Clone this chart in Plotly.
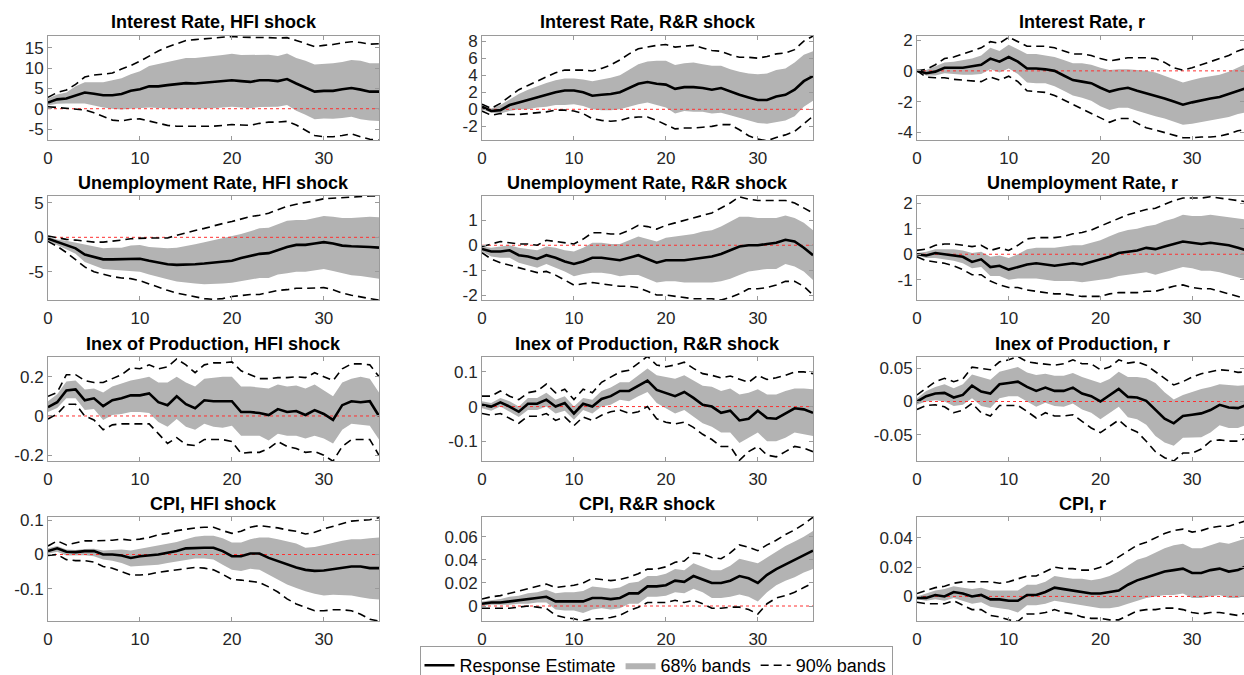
import plotly.graph_objects as go

W, H = 1244, 675
horizon = list(range(37))

# ---------------- Interest Rate, HFI shock ----------------
ir_hfi_mid = [1.5, 2.3, 2.5, 3.3, 4.0, 3.7, 3.3, 3.3, 3.6, 4.4, 4.8, 5.5, 5.5, 5.8, 6.0, 6.3, 6.2, 6.4, 6.5, 6.7, 7.0, 6.8, 6.6, 7.0, 7.0, 6.8, 7.3, 6.2, 5.2, 4.2, 4.4, 4.4, 4.8, 5.1, 4.7, 4.2, 4.2]
ir_hfi_hi68 = [2.5, 3.5, 4.0, 5.5, 6.5, 6.5, 6.5, 7.0, 7.5, 8.5, 9.2, 10.5, 11.0, 11.5, 12.0, 12.5, 12.5, 12.8, 13.0, 13.2, 13.5, 13.2, 13.2, 13.3, 13.3, 13.0, 13.6, 12.5, 11.8, 10.9, 11.0, 11.2, 11.5, 12.0, 11.8, 11.2, 11.2]
ir_hfi_lo68 = [0.8, 1.2, 1.3, 1.3, 1.3, 0.8, 0.3, 0.0, -0.2, 0.0, 0.2, 0.3, 0.2, 0.1, 0.0, 0.2, 0.0, 0.1, 0.1, 0.3, 0.5, 0.3, 0.1, 0.4, 0.4, 0.5, 0.9, -0.5, -1.5, -2.6, -2.4, -2.5, -2.3, -2.0, -2.6, -2.9, -3.0]
ir_hfi_hi90 = [2.8, 4.0, 4.6, 6.0, 7.8, 8.3, 8.5, 8.8, 9.8, 10.6, 11.7, 13.0, 14.2, 15.2, 16.0, 16.8, 17.0, 17.2, 17.4, 17.6, 17.8, 17.6, 17.6, 17.5, 17.5, 17.4, 17.5, 16.8, 16.0, 15.3, 15.6, 15.8, 16.2, 16.5, 16.3, 15.9, 16.0]
ir_hfi_lo90 = [0.5, 0.3, 0.1, -0.1, -0.3, -1.0, -2.0, -2.8, -3.0, -2.6, -2.5, -3.0, -3.6, -4.1, -4.3, -4.3, -4.4, -4.3, -4.3, -4.1, -3.9, -4.0, -4.1, -3.6, -3.3, -3.3, -3.1, -4.0, -5.2, -6.6, -6.9, -6.9, -6.6, -6.2, -6.9, -7.5, -7.8]

# ---------------- Interest Rate, R&R shock ----------------
ir_rr_mid = [0.3, -0.2, -0.1, 0.5, 0.8, 1.1, 1.4, 1.7, 2.0, 2.2, 2.2, 2.0, 1.6, 1.7, 1.8, 2.0, 2.5, 3.0, 3.2, 3.0, 2.9, 2.4, 2.6, 2.6, 2.5, 2.3, 2.5, 2.1, 1.7, 1.4, 1.1, 1.1, 1.5, 1.7, 2.3, 3.3, 3.9]
ir_rr_hi68 = [0.5, 0.1, 0.5, 1.2, 1.8, 2.3, 2.7, 3.1, 3.4, 3.6, 3.6, 3.5, 3.3, 3.5, 3.7, 4.0, 4.6, 5.3, 5.6, 5.7, 5.7, 5.2, 5.4, 5.5, 5.3, 5.1, 5.1, 4.7, 4.4, 4.2, 4.1, 4.2, 4.6, 4.8, 5.5, 6.4, 6.8]
ir_rr_lo68 = [0.0, -0.4, -0.5, -0.2, 0.0, 0.0, 0.2, 0.3, 0.5, 0.5, 0.6, 0.4, 0.0, -0.1, -0.1, 0.0, 0.3, 0.6, 0.8, 0.5, 0.2, -0.5, -0.2, -0.3, -0.3, -0.5, -0.4, -0.7, -1.0, -1.3, -1.6, -1.7, -1.5, -1.3, -0.8, 0.3, 1.0]
ir_rr_hi90 = [0.6, 0.1, 0.7, 1.5, 2.3, 2.8, 3.3, 3.8, 4.3, 4.6, 4.6, 4.6, 4.5, 4.8, 5.2, 5.8, 6.5, 7.1, 7.3, 7.5, 7.6, 7.3, 7.4, 7.5, 7.2, 6.9, 6.8, 6.4, 6.1, 6.1, 6.0, 6.2, 6.5, 6.6, 7.0, 8.0, 8.6]
ir_rr_lo90 = [-0.2, -0.7, -0.5, -0.6, -0.6, -0.5, -0.4, -0.3, -0.1, -0.1, -0.2, -0.5, -1.1, -1.3, -1.4, -1.3, -1.0, -0.9, -0.9, -1.3, -1.8, -2.3, -2.2, -2.2, -2.1, -2.0, -1.8, -1.8, -2.4, -3.1, -3.5, -3.7, -3.3, -3.0, -2.6, -1.7, -0.8]

# ---------------- Interest Rate, r ----------------
ir_r_mid = [0.0, -0.15, -0.05, 0.2, 0.2, 0.2, 0.3, 0.4, 0.8, 0.6, 0.9, 0.6, 0.15, 0.15, 0.1, 0.0, -0.3, -0.6, -0.7, -0.8, -1.1, -1.35, -1.2, -1.1, -1.3, -1.45, -1.6, -1.8, -2.0, -2.2, -2.05, -1.9, -1.8, -1.7, -1.5, -1.3, -1.1]
ir_r_hi68 = [0.0, 0.05, 0.3, 0.55, 0.6, 0.7, 0.8, 1.0, 1.5, 1.3, 1.7, 1.4, 1.1, 1.1, 1.0, 0.9, 0.7, 0.5, 0.5, 0.4, 0.2, 0.05, 0.1, 0.1, 0.05, 0.0, -0.1, -0.3, -0.55, -0.75, -0.6, -0.45, -0.35, -0.25, -0.05, 0.2, 0.5]
ir_r_lo68 = [0.0, -0.3, -0.3, -0.15, -0.2, -0.25, -0.25, -0.2, 0.1, -0.1, 0.15, -0.2, -0.75, -0.8, -0.8, -1.0, -1.3, -1.6, -1.75, -1.95, -2.3, -2.55, -2.4, -2.4, -2.6, -2.8, -2.95, -3.1, -3.3, -3.5, -3.45, -3.35, -3.25, -3.15, -3.0, -2.8, -2.7]
ir_r_hi90 = [0.0, 0.1, 0.4, 0.8, 0.9, 1.1, 1.3, 1.5, 1.9, 1.8, 2.2, 1.9, 1.6, 1.6, 1.6, 1.5, 1.3, 1.1, 1.1, 1.0, 0.8, 0.65, 0.75, 0.85, 0.85, 0.85, 0.8, 0.55, 0.2, 0.05, 0.2, 0.4, 0.6, 0.8, 1.0, 1.3, 1.5]
ir_r_lo90 = [0.0, -0.4, -0.45, -0.45, -0.55, -0.6, -0.65, -0.7, -0.4, -0.6, -0.35, -0.7, -1.3, -1.35, -1.4, -1.6, -1.9, -2.2, -2.5, -2.75, -3.1, -3.35, -3.1, -3.1, -3.4, -3.7, -3.85, -4.0, -4.2, -4.35, -4.35, -4.3, -4.3, -4.25, -4.1, -3.9, -3.8]

# ---------------- Unemployment Rate, HFI shock ----------------
ur_hfi_mid = [-0.2, -0.7, -1.1, -1.6, -2.5, -2.8, -3.2, -3.2, -3.2, -3.2, -3.1, -3.4, -3.7, -3.9, -4.0, -4.0, -3.9, -3.8, -3.7, -3.5, -3.4, -3.0, -2.7, -2.4, -2.3, -1.8, -1.4, -1.1, -1.1, -0.9, -0.7, -0.9, -1.2, -1.3, -1.3, -1.4, -1.5]
ur_hfi_hi68 = [0.1, -0.3, -0.5, -0.8, -1.1, -1.4, -1.6, -1.5, -1.5, -1.2, -1.1, -1.4, -1.5, -1.6, -1.5, -1.3, -1.0, -0.7, -0.4, -0.2, 0.1, 0.5, 0.9, 1.3, 1.4, 1.9, 2.4, 2.5, 2.5, 2.8, 3.1, 3.0, 2.8, 2.8, 2.9, 3.0, 2.9]
ur_hfi_lo68 = [-0.5, -1.1, -1.7, -2.4, -3.6, -4.1, -4.6, -4.7, -4.8, -5.0, -5.0, -5.4, -5.8, -6.1, -6.4, -6.6, -6.7, -6.8, -6.8, -6.7, -6.6, -6.4, -6.2, -5.9, -5.9, -5.4, -5.2, -5.0, -5.0, -4.8, -4.6, -4.9, -5.2, -5.5, -5.6, -5.8, -6.0]
ur_hfi_hi90 = [0.2, -0.1, -0.3, -0.4, -0.6, -0.7, -0.7, -0.6, -0.4, -0.2, -0.1, -0.1, -0.1, -0.1, 0.3, 0.7, 1.0, 1.3, 1.7, 2.0, 2.3, 2.7, 3.0, 3.2, 3.5, 4.0, 4.5, 4.8, 5.0, 5.3, 5.6, 5.7, 5.8, 5.8, 5.9, 6.0, 6.0]
ur_hfi_lo90 = [-0.6, -1.3, -2.2, -3.2, -4.3, -5.0, -5.4, -5.7, -5.9, -6.0, -6.3, -6.8, -7.3, -7.7, -8.1, -8.4, -8.6, -8.9, -9.0, -8.9, -8.6, -8.4, -8.3, -8.3, -8.0, -7.7, -7.6, -7.4, -7.4, -7.3, -7.3, -7.6, -8.1, -8.4, -8.7, -8.9, -9.1]

# ---------------- Unemployment Rate, R&R shock ----------------
ur_rr_mid = [-0.15, -0.25, -0.25, -0.2, -0.4, -0.45, -0.55, -0.4, -0.5, -0.65, -0.75, -0.65, -0.5, -0.5, -0.55, -0.6, -0.5, -0.4, -0.55, -0.7, -0.6, -0.6, -0.6, -0.55, -0.5, -0.45, -0.35, -0.2, -0.05, 0.0, 0.0, 0.05, 0.1, 0.22, 0.15, -0.1, -0.4]
ur_rr_hi68 = [-0.05, -0.1, -0.05, 0.0, -0.1, -0.15, -0.2, -0.05, -0.1, -0.2, -0.25, -0.1, 0.1, 0.1, 0.05, 0.05, 0.2, 0.35, 0.25, 0.15, 0.3, 0.35, 0.4, 0.45, 0.55, 0.6, 0.75, 0.95, 1.15, 1.15, 1.1, 1.1, 1.1, 1.2, 1.1, 0.9, 0.6]
ur_rr_lo68 = [-0.25, -0.45, -0.5, -0.5, -0.7, -0.8, -0.9, -0.75, -0.9, -1.05, -1.25, -1.15, -1.1, -1.1, -1.15, -1.25, -1.2, -1.2, -1.35, -1.5, -1.45, -1.45, -1.5, -1.5, -1.5, -1.5, -1.45, -1.35, -1.2, -1.05, -1.0, -0.95, -0.95, -0.75, -0.85, -1.05, -1.4]
ur_rr_hi90 = [-0.05, 0.05, 0.15, 0.1, 0.05, 0.05, 0.0, 0.2, 0.15, 0.1, 0.05, 0.25, 0.5, 0.5, 0.45, 0.45, 0.6, 0.8, 0.75, 0.65, 0.8, 0.9, 1.0, 1.1, 1.2, 1.3, 1.5, 1.7, 1.95, 1.85, 1.8, 1.8, 1.8, 1.8, 1.7, 1.5, 1.3]
ur_rr_lo90 = [-0.3, -0.55, -0.7, -0.8, -0.9, -1.0, -1.1, -1.05, -1.2, -1.4, -1.6, -1.55, -1.5, -1.55, -1.6, -1.65, -1.65, -1.7, -1.85, -2.0, -2.0, -2.05, -2.1, -2.15, -2.15, -2.15, -2.2, -2.1, -1.95, -1.75, -1.75, -1.7, -1.6, -1.45, -1.45, -1.65, -2.0]

# ---------------- Unemployment Rate, r ----------------
ur_r_mid = [0.0, -0.05, 0.05, 0.0, -0.05, -0.1, -0.3, -0.2, -0.5, -0.45, -0.6, -0.5, -0.4, -0.35, -0.4, -0.45, -0.4, -0.35, -0.4, -0.3, -0.2, -0.1, 0.05, 0.1, 0.15, 0.25, 0.2, 0.3, 0.4, 0.5, 0.45, 0.4, 0.45, 0.4, 0.35, 0.25, 0.15]
ur_r_hi68 = [0.05, 0.1, 0.2, 0.2, 0.2, 0.15, 0.05, 0.1, -0.1, -0.05, -0.15, 0.0, 0.2, 0.25, 0.25, 0.25, 0.3, 0.35, 0.35, 0.45, 0.55, 0.7, 0.85, 0.95, 1.0, 1.1, 1.15, 1.3, 1.4, 1.55, 1.5, 1.5, 1.55, 1.5, 1.45, 1.4, 1.35]
ur_r_lo68 = [-0.05, -0.15, -0.15, -0.2, -0.25, -0.35, -0.55, -0.5, -0.85, -0.85, -1.0, -0.95, -0.95, -0.95, -1.0, -1.05, -1.05, -1.05, -1.1, -1.05, -1.0, -0.95, -0.85, -0.8, -0.75, -0.7, -0.8, -0.7, -0.6, -0.5, -0.55, -0.65, -0.65, -0.7, -0.8, -0.9, -1.0]
ur_r_hi90 = [0.15, 0.2, 0.35, 0.4, 0.4, 0.35, 0.3, 0.35, 0.15, 0.25, 0.15, 0.35, 0.6, 0.65, 0.65, 0.65, 0.7, 0.8, 0.85, 0.95, 1.1, 1.25, 1.4, 1.55, 1.65, 1.75, 1.8, 1.95, 2.1, 2.2, 2.2, 2.2, 2.25, 2.2, 2.15, 2.1, 2.05]
ur_r_lo90 = [-0.1, -0.25, -0.3, -0.35, -0.45, -0.6, -0.8, -0.8, -1.05, -1.2, -1.3, -1.3, -1.4, -1.45, -1.5, -1.55, -1.55, -1.6, -1.65, -1.65, -1.65, -1.55, -1.5, -1.5, -1.5, -1.45, -1.45, -1.35, -1.25, -1.2, -1.3, -1.35, -1.35, -1.45, -1.55, -1.65, -1.75]

# ---------------- Index of Production, HFI shock ----------------
ip_hfi_mid = [0.045, 0.07, 0.13, 0.135, 0.08, 0.09, 0.05, 0.08, 0.09, 0.105, 0.105, 0.115, 0.07, 0.055, 0.1, 0.06, 0.04, 0.08, 0.075, 0.075, 0.075, 0.02, 0.02, 0.015, 0.005, 0.035, 0.02, 0.025, 0.005, 0.03, 0.01, -0.02, 0.055, 0.075, 0.07, 0.075, 0.0]
ip_hfi_hi68 = [0.075, 0.11, 0.175, 0.18, 0.135, 0.14, 0.12, 0.15, 0.165, 0.18, 0.19, 0.2, 0.17, 0.17, 0.2, 0.17, 0.15, 0.19, 0.195, 0.2, 0.2, 0.15, 0.15, 0.145, 0.14, 0.16, 0.15, 0.155, 0.14, 0.16, 0.13, 0.1, 0.17, 0.19, 0.2, 0.19, 0.12]
ip_hfi_lo68 = [0.02, 0.04, 0.09, 0.09, 0.03, 0.035, -0.02, 0.005, 0.01, 0.02, 0.02, 0.015, -0.03, -0.055, -0.015, -0.055, -0.07, -0.04, -0.055, -0.06, -0.05, -0.1, -0.1, -0.1, -0.125, -0.09, -0.1, -0.1, -0.115, -0.1, -0.115, -0.14, -0.07, -0.04, -0.045, -0.05, -0.12]
ip_hfi_hi90 = [0.1, 0.12, 0.21, 0.21, 0.18, 0.17, 0.17, 0.19, 0.21, 0.245, 0.24, 0.26, 0.24, 0.25, 0.29, 0.26, 0.22, 0.26, 0.27, 0.27, 0.275, 0.23, 0.21, 0.19, 0.19, 0.195, 0.195, 0.2, 0.195, 0.22, 0.2, 0.18, 0.24, 0.265, 0.265, 0.26, 0.2]
ip_hfi_lo90 = [-0.015, 0.01, 0.06, 0.06, 0.0, -0.02, -0.07, -0.045, -0.04, -0.04, -0.04, -0.04, -0.09, -0.14, -0.11, -0.145, -0.15, -0.12, -0.12, -0.12, -0.13, -0.19, -0.185, -0.185, -0.165, -0.13, -0.155, -0.165, -0.185, -0.18, -0.2, -0.23, -0.155, -0.12, -0.12, -0.12, -0.2]

# ---------------- Index of Production, R&R shock ----------------
ip_rr_mid = [0.005, 0.0, 0.012, 0.0, -0.015, 0.008, 0.008, 0.02, 0.0, 0.01, -0.02, 0.008, 0.0, 0.022, 0.03, 0.045, 0.045, 0.06, 0.075, 0.048, 0.04, 0.03, 0.042, 0.025, 0.005, 0.0, -0.018, -0.012, -0.04, -0.035, -0.012, -0.033, -0.035, -0.02, -0.005, -0.008, -0.018]
ip_rr_hi68 = [0.015, 0.01, 0.025, 0.015, 0.0, 0.025, 0.025, 0.04, 0.02, 0.03, 0.0, 0.025, 0.02, 0.045, 0.055, 0.07, 0.07, 0.09, 0.11, 0.09, 0.085, 0.08, 0.09, 0.075, 0.06, 0.057, 0.045, 0.052, 0.035, 0.04, 0.05, 0.035, 0.035, 0.045, 0.052, 0.052, 0.05]
ip_rr_lo68 = [-0.005, -0.012, 0.0, -0.015, -0.03, -0.01, -0.01, 0.0, -0.02, -0.012, -0.038, -0.01, -0.02, 0.0, 0.005, 0.02, 0.015, 0.03, 0.042, 0.01, -0.005, -0.02, -0.01, -0.03, -0.048, -0.058, -0.075, -0.075, -0.105, -0.09, -0.075, -0.1, -0.1, -0.09, -0.075, -0.08, -0.085]
ip_rr_hi90 = [0.03, 0.03, 0.045, 0.03, 0.02, 0.04, 0.045, 0.065, 0.04, 0.05, 0.02, 0.05, 0.04, 0.07, 0.085, 0.1, 0.105, 0.125, 0.145, 0.12, 0.115, 0.12, 0.128, 0.11, 0.095, 0.09, 0.083, 0.088, 0.078, 0.07, 0.09, 0.078, 0.083, 0.09, 0.1, 0.1, 0.095]
ip_rr_lo90 = [-0.02, -0.025, -0.02, -0.035, -0.048, -0.028, -0.028, -0.02, -0.04, -0.03, -0.055, -0.03, -0.04, -0.025, -0.015, -0.01, -0.02, -0.015, 0.0, -0.035, -0.045, -0.05, -0.045, -0.06, -0.08, -0.095, -0.115, -0.115, -0.155, -0.13, -0.115, -0.14, -0.145, -0.13, -0.115, -0.12, -0.13]

# ---------------- Index of Production, r ----------------
ip_r_mid = [0.0, 0.008, 0.012, 0.013, 0.006, 0.01, 0.024, 0.015, 0.012, 0.026, 0.028, 0.03, 0.022, 0.016, 0.021, 0.016, 0.016, 0.021, 0.012, 0.008, 0.0, 0.009, 0.019, 0.007, 0.006, 0.001, -0.012, -0.026, -0.033, -0.022, -0.02, -0.018, -0.013, -0.005, -0.009, -0.01, -0.005]
ip_r_hi68 = [0.005, 0.016, 0.022, 0.026, 0.02, 0.026, 0.041, 0.037, 0.033, 0.045, 0.048, 0.052, 0.044, 0.04, 0.042, 0.039, 0.039, 0.043, 0.037, 0.033, 0.028, 0.034, 0.045, 0.037, 0.037, 0.035, 0.028, 0.014, 0.003, 0.01, 0.015, 0.019, 0.022, 0.026, 0.025, 0.024, 0.025]
ip_r_lo68 = [-0.005, 0.0, 0.002, 0.0, -0.007, -0.005, 0.005, -0.007, -0.01, 0.005, 0.008, 0.008, 0.0, -0.008, -0.002, -0.007, -0.008, -0.003, -0.012, -0.017, -0.027, -0.018, -0.008, -0.024, -0.027, -0.035, -0.052, -0.062, -0.067, -0.055, -0.055, -0.054, -0.047, -0.036, -0.04, -0.04, -0.035]
ip_r_hi90 = [0.01, 0.02, 0.03, 0.035, 0.03, 0.034, 0.052, 0.05, 0.048, 0.06, 0.063, 0.068, 0.06, 0.058, 0.057, 0.055, 0.057, 0.063, 0.057, 0.057, 0.048, 0.052, 0.063, 0.058, 0.06, 0.055, 0.045, 0.035, 0.025, 0.03, 0.037, 0.042, 0.045, 0.048, 0.047, 0.044, 0.045]
ip_r_lo90 = [-0.012, -0.006, -0.005, -0.008, -0.017, -0.013, -0.003, -0.017, -0.022, -0.006, -0.006, -0.006, -0.015, -0.025, -0.017, -0.022, -0.022, -0.02, -0.03, -0.04, -0.047, -0.037, -0.028, -0.04, -0.046, -0.06, -0.076, -0.085, -0.09, -0.078, -0.078, -0.072, -0.06, -0.058, -0.06, -0.06, -0.055]

# ---------------- CPI, HFI shock ----------------
cpi_hfi_mid = [0.01, 0.018, 0.008, 0.007, 0.01, 0.01, 0.0, 0.0, -0.003, -0.01, -0.005, -0.003, 0.0, 0.005, 0.01, 0.018, 0.02, 0.02, 0.02, 0.01, -0.005, -0.005, 0.003, 0.003, -0.01, -0.02, -0.03, -0.038, -0.045, -0.048, -0.047, -0.043, -0.038, -0.035, -0.035, -0.04, -0.04]
cpi_hfi_hi68 = [0.018, 0.025, 0.015, 0.013, 0.016, 0.017, 0.012, 0.013, 0.015, 0.012, 0.017, 0.02, 0.025, 0.03, 0.037, 0.045, 0.052, 0.055, 0.055, 0.048, 0.035, 0.035, 0.045, 0.05, 0.05, 0.045, 0.038, 0.032, 0.02, 0.022, 0.028, 0.035, 0.04, 0.045, 0.045, 0.048, 0.05]
cpi_hfi_lo68 = [0.002, 0.008, -0.003, -0.003, -0.002, -0.005, -0.015, -0.018, -0.025, -0.035, -0.033, -0.033, -0.03, -0.025, -0.02, -0.015, -0.012, -0.012, -0.015, -0.03, -0.045, -0.048, -0.042, -0.045, -0.06, -0.075, -0.088, -0.098, -0.108, -0.115, -0.12, -0.118, -0.118, -0.12, -0.125, -0.13, -0.132]
cpi_hfi_hi90 = [0.025, 0.04, 0.028, 0.035, 0.04, 0.04, 0.04, 0.042, 0.045, 0.042, 0.045, 0.05, 0.058, 0.062, 0.07, 0.075, 0.078, 0.08, 0.08, 0.07, 0.062, 0.068, 0.08, 0.085, 0.082, 0.078, 0.072, 0.068, 0.06, 0.065, 0.075, 0.083, 0.09, 0.098, 0.1, 0.102, 0.108]
cpi_hfi_lo90 = [-0.003, 0.0, -0.015, -0.018, -0.018, -0.022, -0.035, -0.04, -0.05, -0.06, -0.06, -0.058, -0.052, -0.048, -0.045, -0.04, -0.038, -0.04, -0.045, -0.058, -0.073, -0.075, -0.078, -0.082, -0.095, -0.11, -0.13, -0.145, -0.155, -0.165, -0.165, -0.162, -0.162, -0.165, -0.175, -0.19, -0.195]

# ---------------- CPI, R&R shock ----------------
cpi_rr_mid = [0.002, 0.003, 0.003, 0.004, 0.005, 0.006, 0.007, 0.008, 0.004, 0.004, 0.004, 0.004, 0.007, 0.007, 0.006, 0.007, 0.011, 0.011, 0.017, 0.017, 0.018, 0.022, 0.021, 0.026, 0.023, 0.02, 0.02, 0.022, 0.026, 0.024, 0.02, 0.027, 0.032, 0.036, 0.04, 0.044, 0.048]
cpi_rr_hi68 = [0.004, 0.005, 0.006, 0.008, 0.009, 0.011, 0.012, 0.014, 0.011, 0.012, 0.012, 0.013, 0.017, 0.016, 0.015, 0.016, 0.02, 0.021, 0.026, 0.026, 0.028, 0.032, 0.031, 0.037, 0.034, 0.031, 0.031, 0.035, 0.041, 0.039, 0.037, 0.042, 0.047, 0.052, 0.056, 0.06, 0.065]
cpi_rr_lo68 = [0.0, 0.001, 0.001, 0.001, 0.002, 0.002, 0.003, 0.003, -0.003, -0.004, -0.004, -0.006, -0.003, -0.002, -0.003, -0.002, 0.002, 0.002, 0.008, 0.008, 0.009, 0.012, 0.011, 0.015, 0.012, 0.007, 0.007, 0.008, 0.01, 0.008, 0.004, 0.012, 0.018, 0.022, 0.025, 0.029, 0.032]
cpi_rr_hi90 = [0.006, 0.008, 0.009, 0.011, 0.013, 0.015, 0.017, 0.019, 0.016, 0.017, 0.018, 0.02, 0.024, 0.023, 0.022, 0.023, 0.025, 0.028, 0.032, 0.032, 0.034, 0.038, 0.039, 0.046, 0.045, 0.042, 0.041, 0.046, 0.053, 0.051, 0.048, 0.053, 0.057, 0.062, 0.066, 0.071, 0.077]
cpi_rr_lo90 = [-0.002, -0.002, -0.002, -0.002, -0.001, 0.0, -0.001, -0.002, -0.008, -0.01, -0.011, -0.013, -0.011, -0.011, -0.01, -0.008, -0.004, -0.001, 0.003, 0.003, 0.003, 0.005, 0.003, 0.005, 0.002, -0.002, -0.002, -0.001, -0.001, -0.003, -0.007, 0.002, 0.007, 0.009, 0.012, 0.016, 0.02]

# ---------------- CPI, r ----------------
cpi_r_mid = [-0.001, -0.001, 0.001, 0.0, 0.003, 0.002, 0.0, 0.001, -0.002, -0.002, -0.003, -0.003, 0.001, 0.001, 0.003, 0.006, 0.005, 0.004, 0.003, 0.002, 0.002, 0.003, 0.004, 0.008, 0.011, 0.013, 0.015, 0.017, 0.018, 0.019, 0.016, 0.016, 0.018, 0.019, 0.017, 0.018, 0.021]
cpi_r_hi68 = [0.0, 0.002, 0.004, 0.005, 0.007, 0.006, 0.005, 0.006, 0.004, 0.004, 0.004, 0.004, 0.008, 0.008, 0.01, 0.014, 0.013, 0.012, 0.012, 0.011, 0.012, 0.014, 0.017, 0.021, 0.025, 0.027, 0.03, 0.033, 0.035, 0.036, 0.033, 0.033, 0.035, 0.037, 0.036, 0.038, 0.04]
cpi_r_lo68 = [-0.002, -0.003, -0.002, -0.003, -0.001, -0.003, -0.005, -0.004, -0.007, -0.008, -0.009, -0.011, -0.006, -0.006, -0.005, -0.003, -0.004, -0.005, -0.006, -0.007, -0.008, -0.008, -0.007, -0.005, -0.003, -0.001, 0.0, 0.001, 0.001, 0.002, -0.001, -0.001, 0.0, 0.001, -0.001, -0.001, 0.001]
cpi_r_hi90 = [0.002, 0.004, 0.006, 0.007, 0.009, 0.01, 0.01, 0.01, 0.01, 0.009, 0.01, 0.012, 0.014, 0.014, 0.017, 0.02, 0.019, 0.019, 0.018, 0.018, 0.02, 0.023, 0.027, 0.031, 0.035, 0.037, 0.04, 0.043, 0.045, 0.046, 0.044, 0.045, 0.047, 0.048, 0.048, 0.05, 0.052]
cpi_r_lo90 = [-0.004, -0.005, -0.005, -0.005, -0.003, -0.006, -0.009, -0.009, -0.013, -0.014, -0.016, -0.017, -0.012, -0.012, -0.011, -0.009, -0.011, -0.012, -0.014, -0.015, -0.015, -0.016, -0.016, -0.013, -0.01, -0.009, -0.009, -0.008, -0.008, -0.009, -0.011, -0.012, -0.011, -0.011, -0.012, -0.013, -0.011]

# ---------------- panel titles, axis ranges and tick labels ----------------
titles = ["Interest Rate, HFI shock", "Interest Rate, R&R shock", "Interest Rate, r",
          "Unemployment Rate, HFI shock", "Unemployment Rate, R&R shock", "Unemployment Rate, r",
          "Inex of Production, HFI shock", "Inex of Production, R&R shock", "Inex of Production, r",
          "CPI, HFI shock", "CPI, R&R shock", "CPI, r"]
y_ranges = [[-7.7, 17.9], [-3.6, 8.6], [-4.5, 2.27],
            [-9.1, 6.0], [-2.2, 1.98], [-1.79, 2.28],
            [-0.229, 0.30], [-0.157, 0.143], [-0.09, 0.0673],
            [-0.195, 0.11], [-0.013, 0.0772], [-0.0168, 0.0543]]
y_ticks = [[-5, 0, 5, 10, 15], [-2, 0, 2, 4, 6, 8], [-4, -2, 0, 2],
           [-5, 0, 5], [-2, -1, 0, 1], [-1, 0, 1, 2],
           [-0.2, 0, 0.2], [-0.1, 0, 0.1], [-0.05, 0, 0.05],
           [-0.1, 0, 0.1], [0, 0.02, 0.04, 0.06], [0, 0.02, 0.04]]
y_ticktext = [["-5", "0", "5", "10", "15"], ["-2", "0", "2", "4", "6", "8"], ["-4", "-2", "0", "2"],
              ["-5", "0", "5"], ["-2", "-1", "0", "1"], ["-1", "0", "1", "2"],
              ["-0.2", "0", "0.2"], ["-0.1", "0", "0.1"], ["-0.05", "0", "0.05"],
              ["-0.1", "0", "0.1"], ["0", "0.02", "0.04", "0.06"], ["0", "0.02", "0.04"]]
x_ticks = [0, 10, 20, 30]

panels = [
    (ir_hfi_mid, ir_hfi_lo68, ir_hfi_hi68, ir_hfi_lo90, ir_hfi_hi90),
    (ir_rr_mid, ir_rr_lo68, ir_rr_hi68, ir_rr_lo90, ir_rr_hi90),
    (ir_r_mid, ir_r_lo68, ir_r_hi68, ir_r_lo90, ir_r_hi90),
    (ur_hfi_mid, ur_hfi_lo68, ur_hfi_hi68, ur_hfi_lo90, ur_hfi_hi90),
    (ur_rr_mid, ur_rr_lo68, ur_rr_hi68, ur_rr_lo90, ur_rr_hi90),
    (ur_r_mid, ur_r_lo68, ur_r_hi68, ur_r_lo90, ur_r_hi90),
    (ip_hfi_mid, ip_hfi_lo68, ip_hfi_hi68, ip_hfi_lo90, ip_hfi_hi90),
    (ip_rr_mid, ip_rr_lo68, ip_rr_hi68, ip_rr_lo90, ip_rr_hi90),
    (ip_r_mid, ip_r_lo68, ip_r_hi68, ip_r_lo90, ip_r_hi90),
    (cpi_hfi_mid, cpi_hfi_lo68, cpi_hfi_hi68, cpi_hfi_lo90, cpi_hfi_hi90),
    (cpi_rr_mid, cpi_rr_lo68, cpi_rr_hi68, cpi_rr_lo90, cpi_rr_hi90),
    (cpi_r_mid, cpi_r_lo68, cpi_r_hi68, cpi_r_lo90, cpi_r_hi90),
]

# layout in pixels
col_px = [(48, 379), (482, 813), (917, 1244)]
col_center_px = [213.5, 647.5, 1082]
x_max = [36, 36, 35.66]
row_px = [(36, 140), (196, 300), (357, 461), (517, 621)]
title_px = [22, 183, 344, 504]

FONT = "Liberation Sans, Arial, Helvetica, sans-serif"
AX_COLOR = "#9a9a9a"
TXT_COLOR = "#262626"
BAND = "#b3b3b3"

fig = go.Figure()
layout = {}
annotations = []
for i, (mid, lo68, hi68, lo90, hi90) in enumerate(panels):
    r, c = divmod(i, 3)
    n = i + 1
    xa = "x" if n == 1 else f"x{n}"
    ya = "y" if n == 1 else f"y{n}"
    first = (i == 0)
    fig.add_trace(go.Scatter(x=horizon, y=lo68, xaxis=xa, yaxis=ya, mode="lines",
                             line=dict(width=0, color=BAND), showlegend=False, hoverinfo="skip"))
    fig.add_trace(go.Scatter(x=horizon, y=hi68, xaxis=xa, yaxis=ya, mode="lines",
                             line=dict(width=0, color=BAND), fill="tonexty", fillcolor=BAND,
                             name="68% bands", legendgroup="b68", legendrank=2, showlegend=first))
    fig.add_trace(go.Scatter(x=[0, 36], y=[0, 0], xaxis=xa, yaxis=ya, mode="lines",
                             line=dict(width=1, color="#ff3030", dash="dot"),
                             showlegend=False, hoverinfo="skip"))
    fig.add_trace(go.Scatter(x=horizon, y=lo90, xaxis=xa, yaxis=ya, mode="lines",
                             line=dict(width=1.6, color="black", dash="8px,5px"),
                             name="90% bands", legendgroup="b90", legendrank=3, showlegend=first))
    fig.add_trace(go.Scatter(x=horizon, y=hi90, xaxis=xa, yaxis=ya, mode="lines",
                             line=dict(width=1.6, color="black", dash="8px,5px"),
                             name="90% bands", legendgroup="b90", showlegend=False))
    fig.add_trace(go.Scatter(x=horizon, y=mid, xaxis=xa, yaxis=ya, mode="lines",
                             line=dict(width=2.6, color="black"),
                             name="Response Estimate", legendgroup="mid", legendrank=1, showlegend=first))

    x0, x1 = col_px[c]
    y0, y1 = row_px[r]
    axis_common = dict(showline=True, linecolor=AX_COLOR, linewidth=1, mirror="allticks",
                       ticks="inside", ticklen=4, tickcolor=AX_COLOR, showgrid=False,
                       zeroline=False, tickfont=dict(family=FONT, size=17, color=TXT_COLOR))
    layout["xaxis" if n == 1 else f"xaxis{n}"] = dict(
        domain=[x0 / W, x1 / W], range=[0, x_max[c]], anchor=ya, ticklabelstandoff=3,
        tickvals=x_ticks, ticktext=[str(t) for t in x_ticks], **axis_common)
    layout["yaxis" if n == 1 else f"yaxis{n}"] = dict(
        domain=[1 - y1 / H, 1 - y0 / H], range=y_ranges[i], anchor=xa,
        tickvals=y_ticks[i], ticktext=y_ticktext[i], **axis_common)
    annotations.append(dict(text=f"<b>{titles[i]}</b>", x=col_center_px[c] / W, y=1 - title_px[r] / H,
                            xref="paper", yref="paper", showarrow=False, xanchor="center", yanchor="middle",
                            font=dict(family=FONT, size=18, color="black")))

fig.update_layout(**layout)
fig.update_layout(
    width=W, height=H, margin=dict(l=0, r=0, t=0, b=0, autoexpand=False),
    paper_bgcolor="white", plot_bgcolor="white",
    annotations=annotations,
    legend=dict(orientation="h", xref="container", yref="container",
                x=656 / W, xanchor="center", y=1 - 646 / H, yanchor="top",
                bgcolor="white", bordercolor="#9a9a9a", borderwidth=1,
                font=dict(family=FONT, size=18, color="black"),
                itemwidth=30, tracegroupgap=0),
    showlegend=True,
)
fig.write_html("out.html")
